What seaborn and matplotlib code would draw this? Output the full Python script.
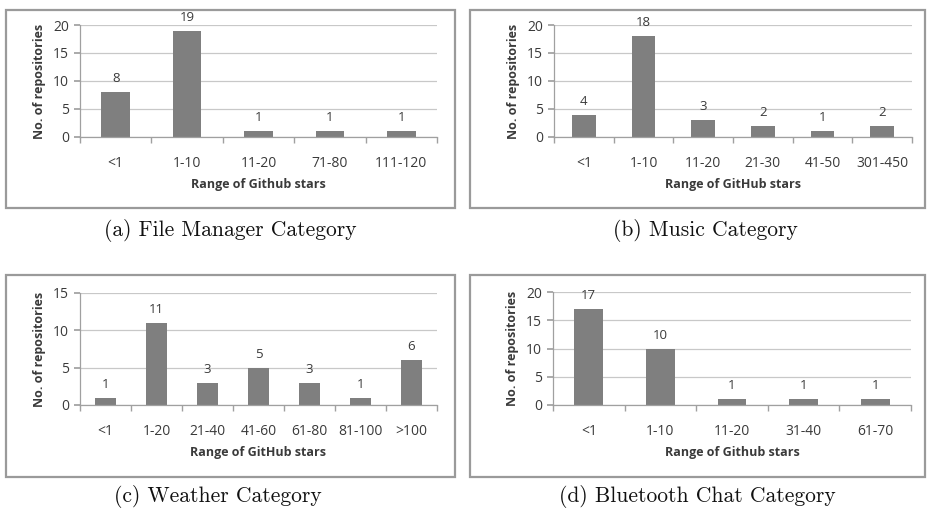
import matplotlib
matplotlib.use('Agg')
import matplotlib.pyplot as plt
import seaborn as sns
import pandas as pd
from matplotlib.patches import Rectangle
from matplotlib.ticker import FixedLocator

# data
fm_ranges = ['<1', '1-10', '11-20', '71-80', '111-120']
fm_counts = [8, 19, 1, 1, 1]

music_ranges = ['<1', '1-10', '11-20', '21-30', '41-50', '301-450']
music_counts = [4, 18, 3, 2, 1, 2]

weather_ranges = ['<1', '1-20', '21-40', '41-60', '61-80', '81-100', '>100']
weather_counts = [1, 11, 3, 5, 3, 1, 6]

bt_ranges = ['<1', '1-10', '11-20', '31-40', '61-70']
bt_counts = [17, 10, 1, 1, 1]

sns.set_theme(style='white')
plt.rcParams['font.family'] = ['Open Sans', 'DejaVu Sans']

W, H = 927, 509
fig = plt.figure(figsize=(W / 100, H / 100), dpi=100)


def px_axes(x0, x1, ytop, ybot):
    return fig.add_axes([x0 / W, 1 - ybot / H, (x1 - x0) / W, (ybot - ytop) / H])


panels = [
    # ranges, counts, ymax, xlabel, caption, axes px, frame px, caption px
    (fm_ranges, fm_counts, 20, 'Range of Github stars', '(a) File Manager Category',
     (80, 437, 25, 137), (6, 455, 10, 208), (230, 231)),
    (music_ranges, music_counts, 20, 'Range of GitHub stars', '(b) Music Category',
     (554, 912, 25, 137), (470, 925, 10, 208), (705, 231)),
    (weather_ranges, weather_counts, 15, 'Range of GitHub stars', '(c) Weather Category',
     (80, 437, 293, 405), (6, 455, 275, 477), (218, 496)),
    (bt_ranges, bt_counts, 20, 'Range of Github stars', '(d) Bluetooth Chat Category',
     (553, 911, 292, 405), (470, 925, 275, 477), (697, 496)),
]

text_col = '#3a3a3a'
grid_col = '#c8c8c8'
axis_col = '#a0a0a0'

for ranges, counts, ymax, xlab, cap, apx, fpx, cpx in panels:
    # outer frame like the Excel chart area
    fx0, fx1, fy0, fy1 = fpx
    fig.patches.append(Rectangle((fx0 / W, 1 - fy1 / H), (fx1 - fx0) / W, (fy1 - fy0) / H,
                                 transform=fig.transFigure, fill=False,
                                 edgecolor='#9a9a9a', linewidth=1.6))

    ax = px_axes(*apx)
    df = pd.DataFrame({'range': ranges, 'count': counts})
    sns.barplot(data=df, x='range', y='count', ax=ax, color='#7f7f7f',
                saturation=1, width=0.4, edgecolor='none')
    for c in ax.containers:
        ax.bar_label(c, padding=5, fontsize=9.5, color=text_col)

    ax.set_ylim(0, ymax)
    ax.set_xlim(-0.5, len(ranges) - 0.5)
    ax.set_yticks(range(0, ymax + 1, 5))
    ax.yaxis.grid(True, color=grid_col, linewidth=0.9)
    ax.set_axisbelow(True)

    for s in ['top', 'right']:
        ax.spines[s].set_visible(False)
    for s in ['left', 'bottom']:
        ax.spines[s].set_color(axis_col)
        ax.spines[s].set_linewidth(0.9)

    ax.tick_params(axis='y', left=True, length=4, color=axis_col, labelsize=10,
                   labelcolor=text_col, pad=4)
    ax.tick_params(axis='x', bottom=False, labelsize=10, labelcolor=text_col, pad=8)
    ax.xaxis.set_minor_locator(FixedLocator([i + 0.5 for i in range(-1, len(ranges))]))
    ax.tick_params(axis='x', which='minor', bottom=True, length=4, color=axis_col)

    ax.set_xlabel(xlab, fontsize=9, fontweight='bold', color=text_col, labelpad=5)
    ax.set_ylabel('No. of repositories', fontsize=9, fontweight='bold',
                  color=text_col, labelpad=5)

    fig.text(cpx[0] / W, 1 - cpx[1] / H, cap, ha='center', va='center',
             family=['cmr10', 'DejaVu Serif'], fontsize=15.5, color='#111111')

fig.savefig('out.png', dpi=100)
